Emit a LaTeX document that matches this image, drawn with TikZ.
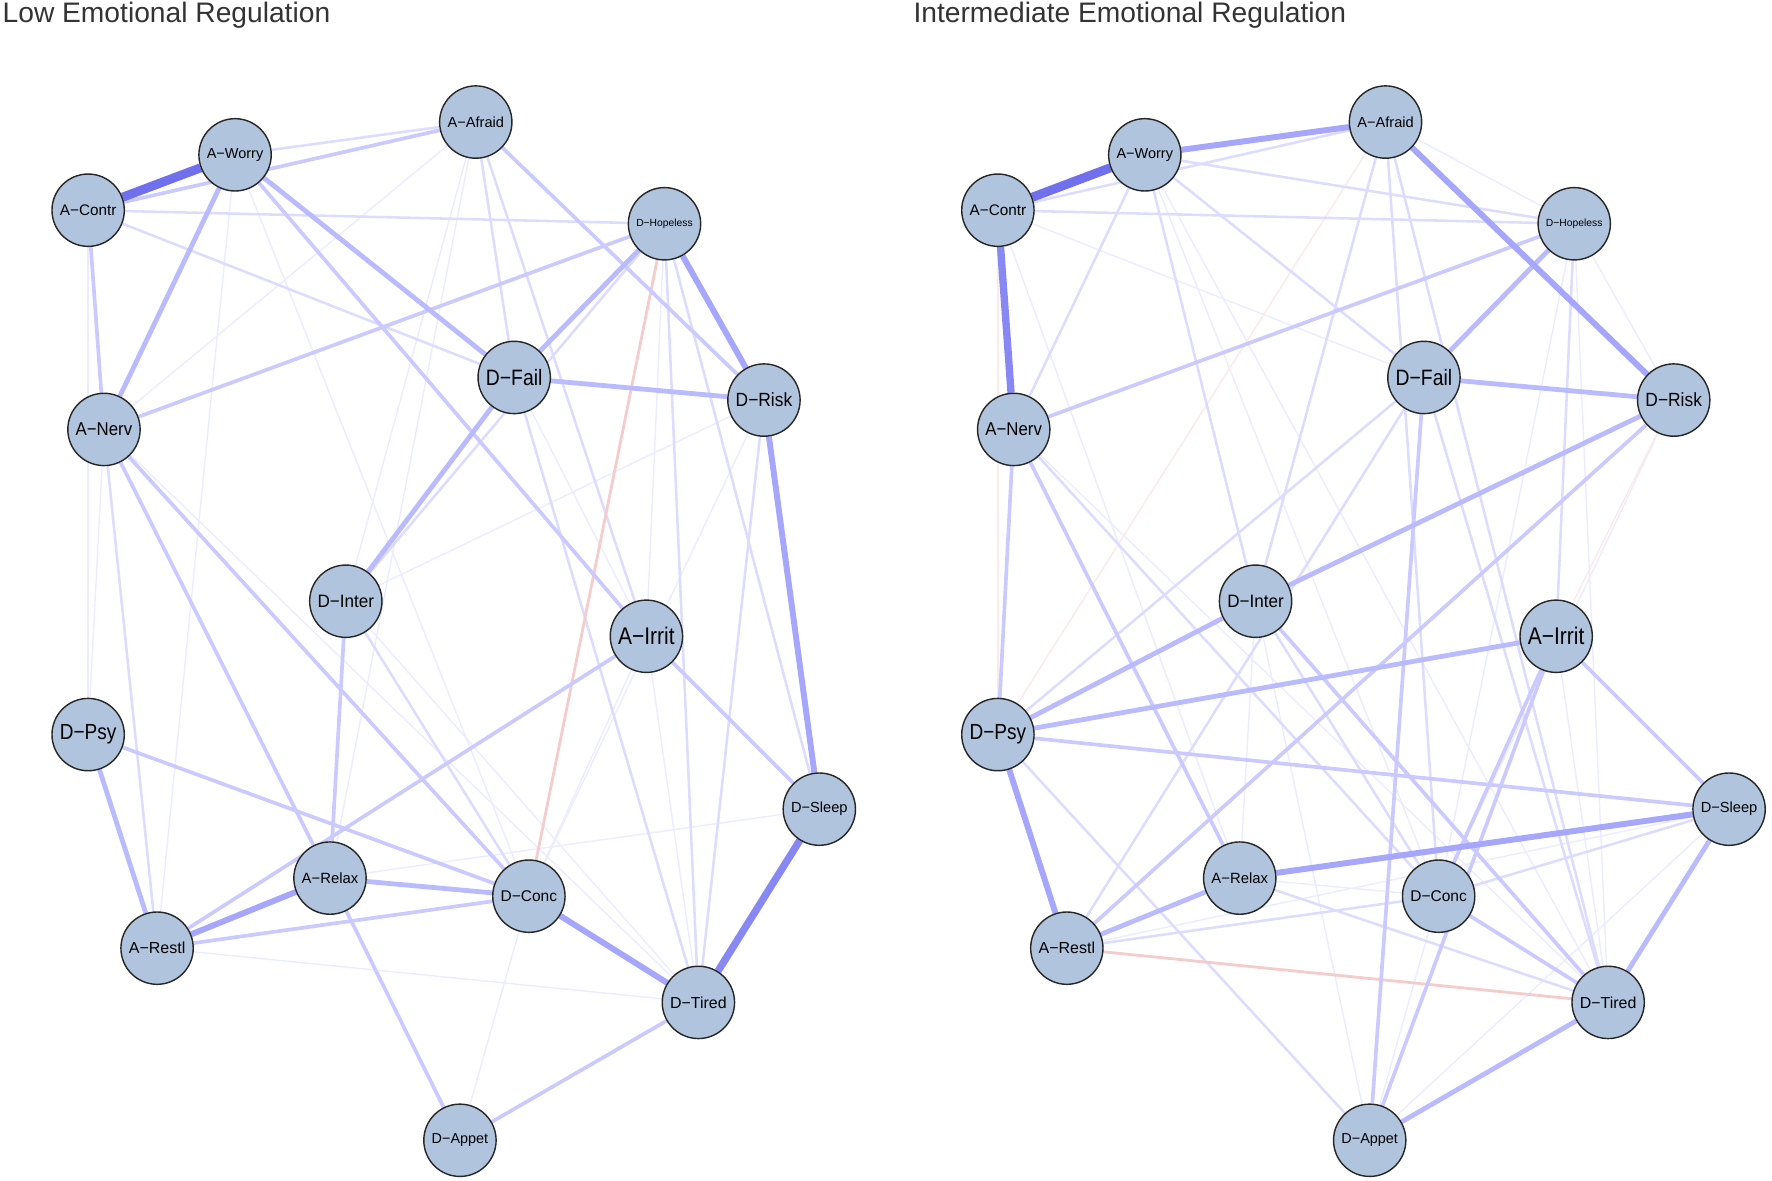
\documentclass[tikz,border=0pt]{standalone}
\usepackage{fontspec}
\setmainfont{Liberation Sans}
\usetikzlibrary{backgrounds}

\definecolor{varfill}{HTML}{B0C4DE}
\definecolor{posa}{RGB}{236,236,255}
\definecolor{posb}{RGB}{220,220,255}
\definecolor{posc}{RGB}{202,202,255}
\definecolor{posd}{RGB}{186,186,255}
\definecolor{pose}{RGB}{166,166,252}
\definecolor{posf}{RGB}{136,136,245}
\definecolor{posg}{RGB}{112,112,238}
\definecolor{nega}{RGB}{250,234,234}
\definecolor{negb}{RGB}{244,204,204}

% label fitted to the node width, optionally stretched upwards
\newcommand{\nlab}[2]{\scalebox{1}[#1]{\resizebox{10mm}{!}{#2}}}

\begin{document}
\begin{tikzpicture}[x=0.2mm, y=-0.2mm,
    var/.style={draw=black!85, line width=0.25mm, circle, fill=varfill,
                minimum size=12.8mm, inner sep=0pt},
    title/.style={anchor=base west, inner sep=0pt, text=black!80,
                  font=\fontsize{14.2}{17}\selectfont},
    e1/.style={draw=posa, line width=0.25mm},
    e2/.style={draw=posb, line width=0.45mm},
    e3/.style={draw=posc, line width=0.65mm},
    e4/.style={draw=posd, line width=0.85mm},
    e5/.style={draw=pose, line width=1.05mm},
    e6/.style={draw=posf, line width=1.3mm},
    e7/.style={draw=posg, line width=1.6mm},
    n1/.style={draw=nega, line width=0.25mm},
    n2/.style={draw=negb, line width=0.5mm}]

\useasboundingbox (0,0) rectangle (1568,1045);

\node[title] (titleL) at (2,20) {Low Emotional Regulation};
\node[title] (titleR) at (808,20) {Intermediate Emotional Regulation};

% same layout for both networks
\foreach \net/\dx in {L/0, R/805}
  \foreach \n/\x/\y/\t/\f in {contr/78/186/A−Contr/1, worry/208/137/A−Worry/1,
      afraid/421/108/A−Afraid/1, hope/588/198/D−Hopeless/1,
      fail/455/334/D−Fail/1.15, risk/676/354/D−Risk/1.1, nerv/92/380/A−Nerv/1.1,
      inter/306/532/D−Inter/1.05, irrit/572/563/A−Irrit/1.15,
      psy/78/650/D−Psy/1.15, sleep/725/716/D−Sleep/1, relax/292/777/A−Relax/1,
      conc/468/793/D−Conc/1, restl/139/839/A−Restl/1, tired/618/887/D−Tired/1,
      appet/407/1009/D−Appet/1}
    \node[var] (\net\n) at (\x+\dx,\y) {\nlab{\f}{\t}};

\begin{pgfonlayer}{background}
% low emotional regulation
\foreach \a/\b/\s in {contr/psy/e1, worry/restl/e1, worry/conc/e1,
    afraid/inter/e1, afraid/relax/e1, afraid/nerv/e1, hope/irrit/e1,
    fail/irrit/e1, risk/inter/e1, nerv/psy/e1, nerv/tired/e1, inter/tired/e1,
    irrit/conc/e1, irrit/tired/e1, restl/tired/e1, relax/sleep/e1,
    conc/appet/e1, risk/conc/e1,
    contr/hope/e2, worry/afraid/e2, afraid/fail/e2, afraid/irrit/e2,
    hope/sleep/e2, hope/inter/e2, hope/tired/e2, nerv/restl/e2,
    inter/conc/e2, fail/tired/e2, risk/tired/e2, contr/fail/e2,
    hope/conc/n2,
    contr/afraid/e3, contr/nerv/e3, worry/irrit/e3,
    afraid/risk/e3, hope/nerv/e3, nerv/relax/e3, nerv/conc/e3, psy/conc/e3,
    inter/relax/e3, irrit/restl/e3, irrit/sleep/e3, restl/conc/e3,
    tired/appet/e3, relax/appet/e3,
    worry/nerv/e4, worry/fail/e4, hope/fail/e4, fail/risk/e4, fail/inter/e4,
    psy/restl/e4, relax/conc/e4,
    hope/risk/e5, risk/sleep/e5, relax/restl/e5, conc/tired/e5,
    sleep/tired/e6, contr/worry/e7}
  \draw[\s] (L\a) -- (L\b);

% intermediate emotional regulation
\foreach \a/\b/\s in {contr/fail/e1, contr/relax/e1, worry/conc/e1,
    worry/tired/e1, afraid/hope/e1, hope/risk/e1, hope/tired/e1,
    hope/conc/e1, nerv/tired/e1, inter/relax/e1, inter/appet/e1,
    irrit/tired/e1, relax/conc/e1, conc/appet/e1, sleep/appet/e1,
    risk/conc/e1, restl/sleep/e1,
    contr/psy/n1, risk/irrit/n1, afraid/psy/n1,
    contr/afraid/e2, contr/hope/e2, worry/hope/e2, worry/nerv/e2,
    worry/fail/e2, worry/inter/e2, afraid/inter/e2, afraid/conc/e2,
    afraid/tired/e2, hope/irrit/e2, fail/restl/e2, fail/tired/e2,
    nerv/conc/e2, inter/conc/e2, psy/fail/e2, psy/appet/e2, restl/conc/e2,
    conc/sleep/e2, relax/tired/e2,
    restl/tired/n2,
    hope/nerv/e3, fail/appet/e3, risk/restl/e3, nerv/psy/e3, nerv/relax/e3,
    irrit/conc/e3, irrit/appet/e3, irrit/sleep/e3, psy/sleep/e3,
    conc/tired/e3, inter/tired/e3,
    hope/fail/e4, fail/risk/e4, risk/inter/e4, inter/psy/e4, irrit/psy/e4,
    relax/restl/e4, sleep/tired/e4, tired/appet/e4,
    worry/afraid/e5, afraid/risk/e5, psy/restl/e5, relax/sleep/e5,
    contr/nerv/e6, contr/worry/e7}
  \draw[\s] (R\a) -- (R\b);
\end{pgfonlayer}

\end{tikzpicture}
\end{document}
